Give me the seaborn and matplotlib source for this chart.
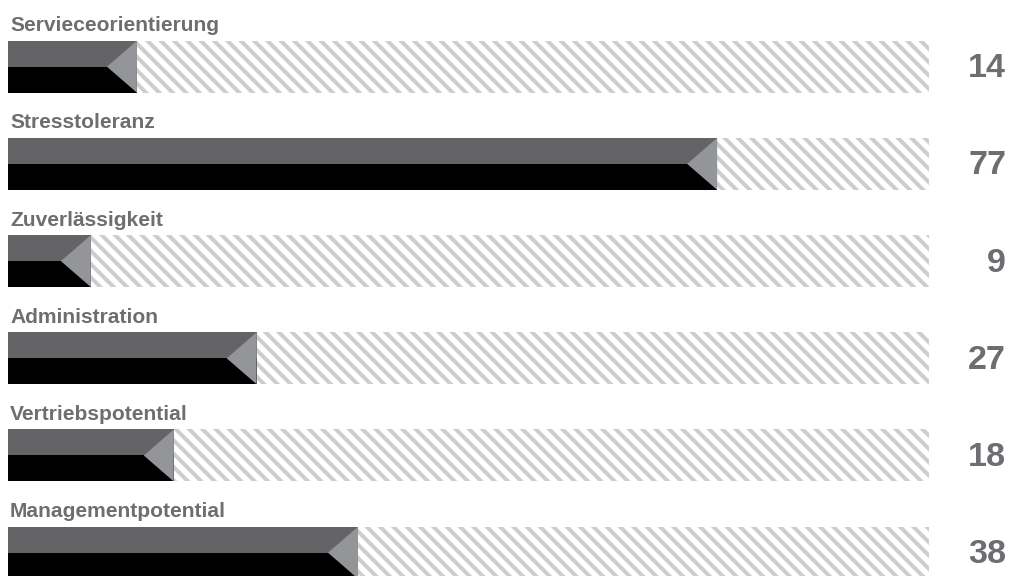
import numpy as np
import matplotlib
matplotlib.use("Agg")
import matplotlib.pyplot as plt
from matplotlib.patches import Polygon
import seaborn as sns

categories = ["Servieceorientierung", "Stresstoleranz", "Zuverlässigkeit",
              "Administration", "Vertriebspotential", "Managementpotential"]
values = [14, 77, 9, 27, 18, 38]
max_value = 100

DPI = 120
W, H = 1010, 576
sns.set_style("white")
plt.rcParams['font.family'] = ['Liberation Sans', 'DejaVu Sans']
plt.rcParams['hatch.linewidth'] = 2.4

fig = plt.figure(figsize=(W / DPI, H / DPI), dpi=DPI)
ax = fig.add_axes([0, 0, 1, 1])

# pixel geometry
x0_px, x100_px = 8, 929
ux = max_value / (x100_px - x0_px)         # units per px (x)
row0_px, row_step = 66.7, 97.2
uy = 1 / row_step                           # units per px (y)
bar_h = 52 * uy

pos = np.arange(len(categories))

# hatched track
sns.barplot(x=[max_value] * len(categories), y=categories, orient='h',
            width=bar_h, color='white', saturation=1, edgecolor='#cdcdcd',
            linewidth=0, hatch='\\\\\\', ax=ax)
# full bar (black)
sns.barplot(x=values, y=categories, orient='h', width=bar_h,
            color='black', saturation=1, linewidth=0, ax=ax)
# top half (dark gray)
ax.barh(pos - bar_h / 2, values, height=bar_h / 2, align='edge',
        color='#646466', linewidth=0, zorder=3)
# triangle notch
tri_w = 30 * ux
for p, v in zip(pos, values):
    ax.add_patch(Polygon([(v, p - bar_h / 2), (v, p + bar_h / 2), (v - tri_w, p)],
                         closed=True, facecolor='#939598', edgecolor='none', zorder=4))

for p, cat, v in zip(pos, categories, values):
    ax.text(0 + 2 * ux, p - bar_h / 2 - 9.5 * uy, cat, ha='left', va='baseline',
            fontsize=12.6, fontweight='bold', color='#6d6e71')
    ax.text(0 + (1006 - x0_px) * ux, p + 2 * uy, str(v), ha='right', va='center',
            fontsize=20.5, fontweight='bold', color='#6d6e71')

ax.set_xlim(-x0_px * ux, (W - x0_px) * ux)
ax.set_ylim((H - row0_px) * uy, -row0_px * uy)
ax.axis('off')

fig.savefig('out.png', dpi=DPI)
